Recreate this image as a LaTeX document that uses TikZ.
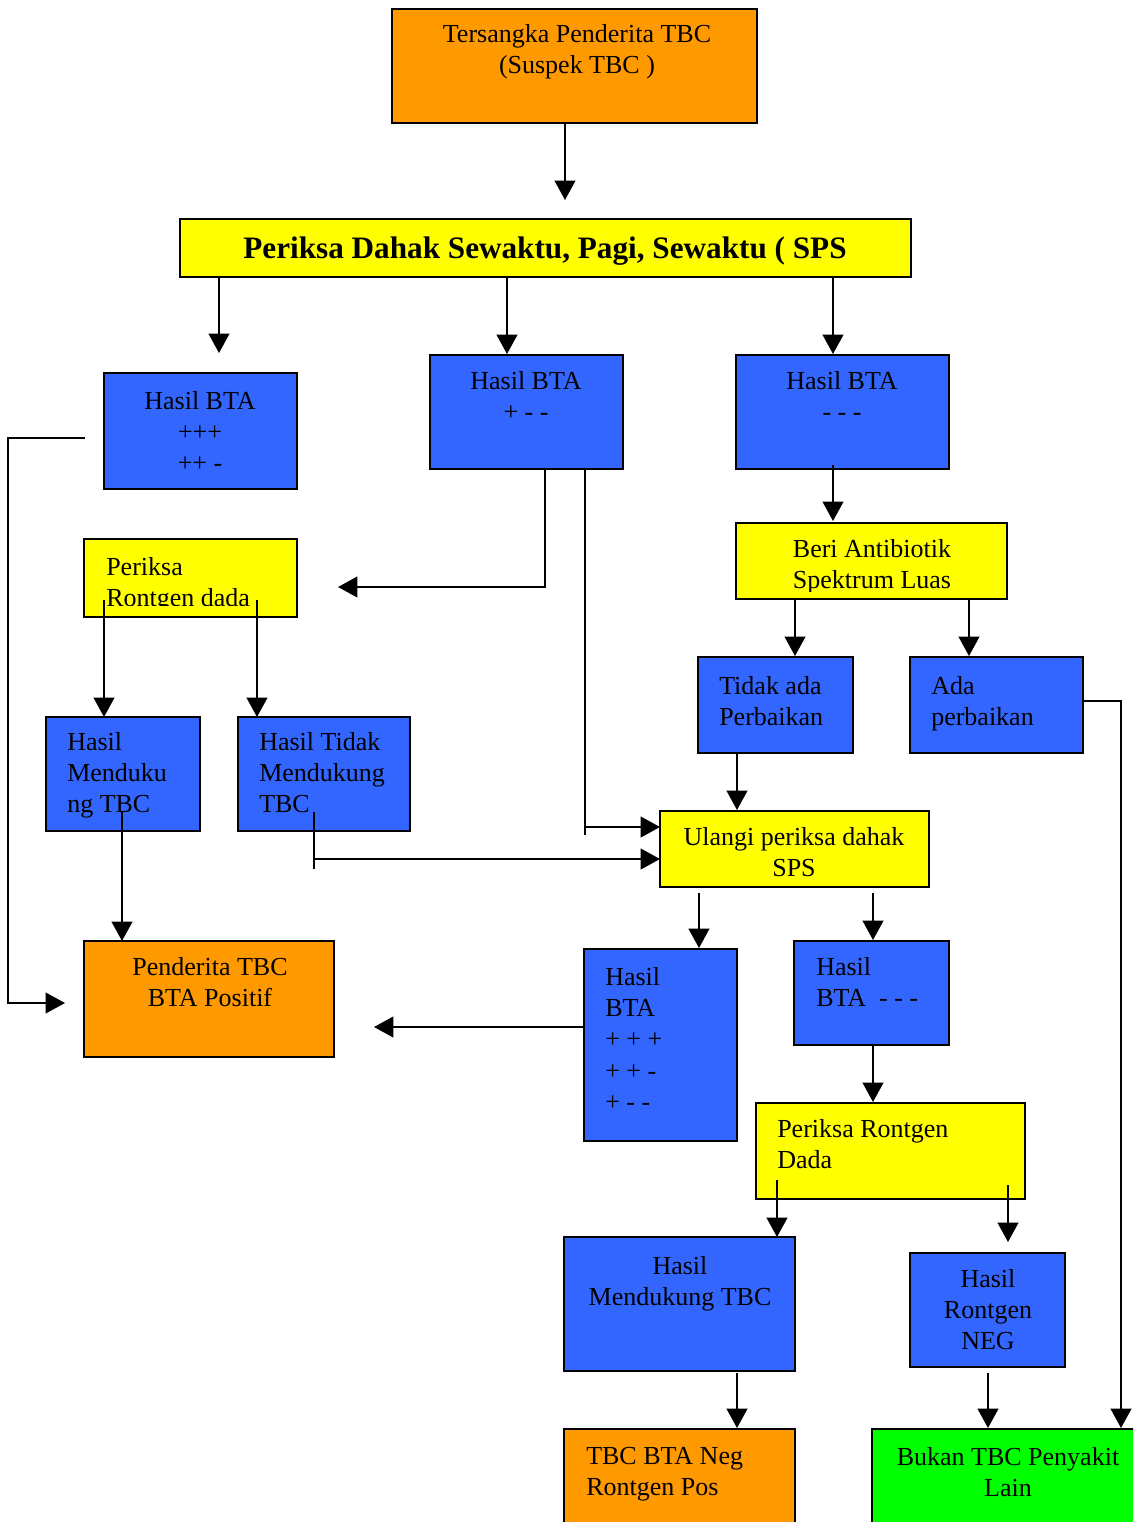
\documentclass[tikz,border=0pt]{standalone}
\usepackage{fontspec}
\setmainfont{Liberation Serif}
\usetikzlibrary{arrows.meta,calc,fit}

\definecolor{boxblue}{HTML}{3366FF}
\definecolor{boxorange}{HTML}{FF9900}
\definecolor{boxyellow}{HTML}{FFFF00}
\definecolor{boxgreen}{HTML}{00FF00}

\tikzset{
  box/.style={draw, line width=1.4pt, inner sep=0pt, outer sep=0pt},
  txt/.style={inner sep=0pt, font=\fontsize{19.5}{23.5}\selectfont},
  arr/.style={line width=1.4pt, -{Triangle[length=14.5pt,width=15.5pt]}},
  ln/.style={line width=1.4pt}
}

\begin{document}
\begin{tikzpicture}[x=0.75pt,y=-0.75pt]
\clip (0,0) rectangle (1133,1522);

% boxes, by corners (pixels, y down)
\node[box, fill=boxorange, fit={(392,9) (757,123)}] (top) {};
\node[box, fill=boxyellow, fit={(180,219) (911,277)}] (sps) {};
\node[box, fill=boxblue, fit={(104,373) (297,489)}] (bta1) {};
\node[box, fill=boxblue, fit={(430,355) (623,469)}] (bta2) {};
\node[box, fill=boxblue, fit={(736,355) (949,469)}] (bta3) {};
\node[box, fill=boxyellow, fit={(84,539) (297,617)}] (xray1) {};
\node[box, fill=boxyellow, fit={(736,523) (1007,599)}] (beri) {};
\node[box, fill=boxblue, fit={(698,657) (853,753)}] (tidak) {};
\node[box, fill=boxblue, fit={(910,657) (1083,753)}] (ada) {};
\node[box, fill=boxblue, fit={(46,717) (200,831)}] (hm) {};
\node[box, fill=boxblue, fit={(238,717) (410,831)}] (ht) {};
\node[box, fill=boxyellow, fit={(660,811) (929,887)}] (ulangi) {};
\node[box, fill=boxorange, fit={(84,941) (334,1057)}] (pend) {};
\node[box, fill=boxblue, fit={(584,949) (737,1141)}] (bta4) {};
\node[box, fill=boxblue, fit={(794,941) (949,1045)}] (bta5) {};
\node[box, fill=boxyellow, fit={(756,1103) (1025,1199)}] (xray2) {};
\node[box, fill=boxblue, fit={(564,1237) (795,1371)}] (hmt) {};
\node[box, fill=boxblue, fit={(910,1253) (1065,1367)}] (neg) {};
\node[box, fill=boxorange, fit={(564,1429) (795,1535)}] (tbcneg) {};
\node[box, fill=boxgreen, fit={(872,1429) (1145,1535)}] (bukan) {};

% texts
\node[txt, anchor=north, align=center] (top-t) at (577,24) {Tersangka Penderita TBC\\(Suspek TBC )};
\node[txt, anchor=north, font=\fontsize{23.4}{28}\selectfont\bfseries] (sps-t) at (545,237) {Periksa Dahak Sewaktu, Pagi, Sewaktu ( SPS};
\node[txt, anchor=north, align=center] (bta1-t) at (200,391) {Hasil BTA\\+++\\++ -};
\node[txt, anchor=north, align=center] (bta2-t) at (526,371) {Hasil BTA\\+ - -};
\node[txt, anchor=north, align=center] (bta3-t) at (842,371) {Hasil BTA\\- - -};
\begin{scope}
  \clip (84,539) rectangle (297,605);
  \node[txt, anchor=north west, align=left] (xray1-t) at (106,557) {Periksa\\Rontgen dada};
\end{scope}
\begin{scope}
  \clip (736,523) rectangle (1007,591);
  \node[txt, anchor=north, align=center] (beri-t) at (872,539) {Beri Antibiotik\\Spektrum Luas};
\end{scope}
\node[txt, anchor=north west, align=left] (tidak-t) at (719,676) {Tidak ada\\Perbaikan};
\node[txt, anchor=north west, align=left] (ada-t) at (931,676) {Ada\\perbaikan};
\node[txt, anchor=north west, align=left] (hm-t) at (67,732) {Hasil\\Menduku\\ng TBC};
\node[txt, anchor=north west, align=left] (ht-t) at (259,732) {Hasil Tidak\\Mendukung\\TBC};
\node[txt, anchor=north, align=center] (ulangi-t) at (794,827) {Ulangi periksa dahak\\SPS};
\node[txt, anchor=north, align=center] (pend-t) at (210,957) {Penderita TBC\\BTA Positif};
\node[txt, anchor=north west, align=left] (bta4-t) at (605,967) {Hasil\\BTA\\+ + +\\+ + -\\+ - -};
\node[txt, anchor=north west, align=left] (bta5-t) at (816,957) {Hasil\\BTA\ \ - - -};
\node[txt, anchor=north west, align=left] (xray2-t) at (777,1119) {Periksa Rontgen\\Dada};
\node[txt, anchor=north, align=center] (hmt-t) at (680,1256) {Hasil\\Mendukung TBC};
\node[txt, anchor=north, align=center] (neg-t) at (988,1269) {Hasil\\Rontgen\\NEG};
\node[txt, anchor=north west, align=left] (tbcneg-t) at (586,1447) {TBC BTA Neg\\Rontgen Pos};
\node[txt, anchor=north, align=center] (bukan-t) at (1008,1447) {Bukan TBC Penyakit\\Lain};

% connectors
\draw[arr] ($(top.south)+(-9.5,0)$) -- ($(sps.north)+(19.5,-19)$);
\draw[arr] ($(sps.south west)+(39,0)$) -- ($(bta1.north)+(18.5,-20)$);
\draw[arr] ($(sps.south)+(-38.5,0)$) -- ($(bta2.north)+(-19.5,-1)$);
\draw[arr] ($(sps.south east)+(-78,0)$) -- ($(bta3.north)+(-9.5,-1)$);
\draw[arr] ($(bta1.west)+(-19,7)$) -| ($(pend.west)+(-76,4)$) -- ($(pend.west)+(-19,4)$);
\draw[arr] ($(bta2.south)+(18.5,0)$) |- ($(xray1.east)+(41,9)$);
\draw[ln] ($(bta2.south)+(58.5,0)$) -- ($(ulangi.west)+(-75,-14)$);
\draw[arr] ($(ulangi.west)+(-75,-22)$) -- ($(ulangi.west)+(0,-22)$);
\draw[arr] ($(bta3.south)+(-9.5,-4)$) -- ($(beri.north)+(-38.5,-2)$);
\draw[arr] ($(beri.south)+(-76.5,0)$) -- ($(tidak.north)+(19.5,-1)$);
\draw[arr] ($(beri.south)+(97.5,0)$) -- ($(ada.north)+(-27.5,-1)$);
\draw[arr] ($(ada.east)+(0,-4)$) -| ($(bukan.north)+(112.5,-1)$);
\draw[arr] ($(tidak.south)+(-38.5,0)$) -- ($(ulangi.north)+(-57.5,-1)$);
\draw[arr] ($(xray1.south)+(-86.5,-17)$) -- ($(hm.north)+(-19,0)$);
\draw[arr] ($(xray1.south)+(66.5,-17)$) -- ($(ht.north)+(-67,0)$);
\draw[arr] ($(hm.south)+(-1,-19)$) -- ($(pend.north)+(-87,0)$);
\draw[ln] ($(ht.south)+(-10,-19)$) -- ($(ht.south)+(-10,38)$);
\draw[arr] ($(ht.south)+(-10,28)$) -- ($(ulangi.west)+(0,10)$);
\draw[arr] ($(ulangi.south)+(-95.5,6)$) -- ($(bta4.north)+(38.5,-1)$);
\draw[arr] ($(ulangi.south)+(78.5,6)$) -- ($(bta5.north)+(1.5,-1)$);
\draw[arr] ($(bta4.west)+(0,-18)$) -- ($(pend.east)+(40,28)$);
\draw[arr] ($(bta5.south)+(1.5,0)$) -- ($(xray2.north)+(-17.5,-1)$);
\draw[arr] ($(xray2.south)+(-113.5,-19)$) -- ($(hmt.north)+(97.5,0)$);
\draw[arr] ($(xray2.south)+(117.5,-14)$) -- ($(neg.north)+(20.5,-11)$);
\draw[arr] ($(hmt.south)+(57.5,2)$) -- ($(tbcneg.north)+(57.5,-1)$);
\draw[arr] ($(neg.south)+(0.5,6)$) -- ($(bukan.north)+(-20.5,-1)$);
\end{tikzpicture}
\end{document}
